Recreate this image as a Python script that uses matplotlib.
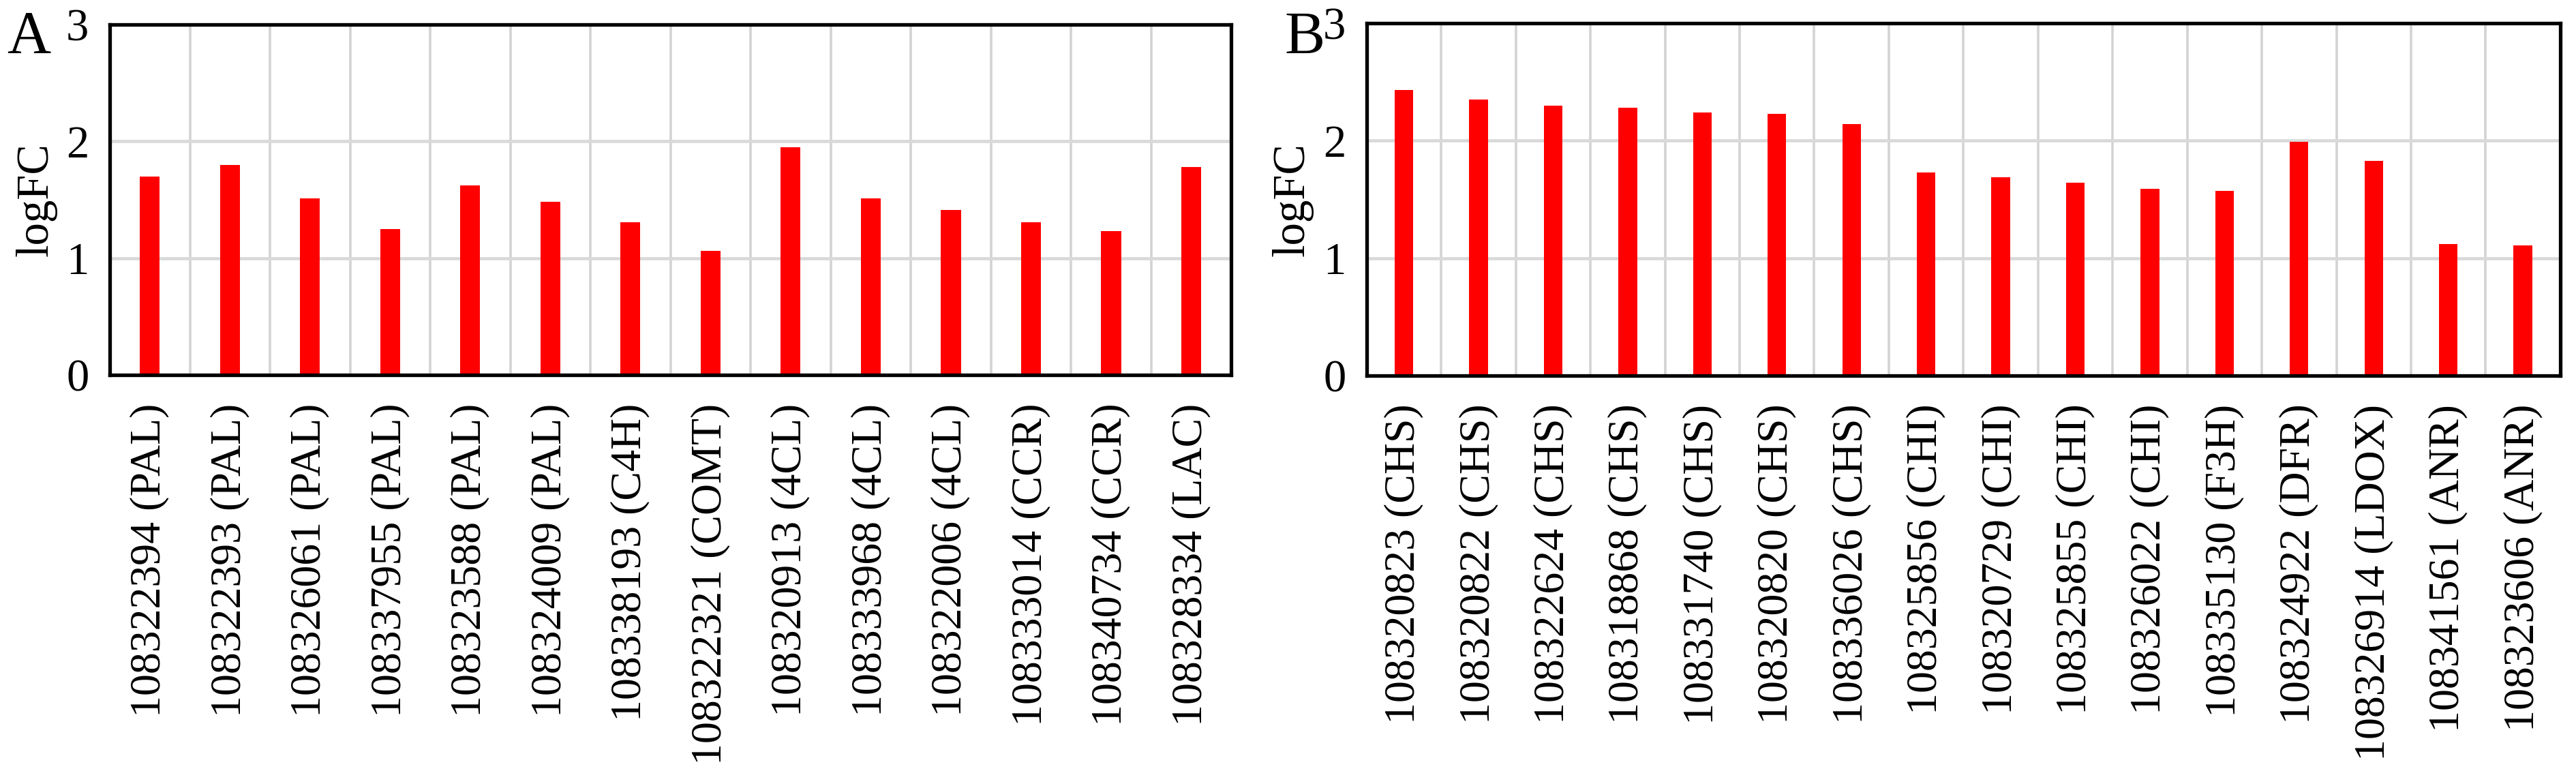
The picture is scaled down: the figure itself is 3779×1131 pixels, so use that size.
import matplotlib
matplotlib.use('Agg')
import matplotlib.pyplot as plt

plt.rcParams['font.family'] = ['Liberation Serif', 'DejaVu Serif']

# panel A: lignin pathway genes
genes_a = ['108322394 (PAL)', '108322393 (PAL)', '108326061 (PAL)', '108337955 (PAL)',
           '108323588 (PAL)', '108324009 (PAL)', '108338193 (C4H)', '108322321 (COMT)',
           '108320913 (4CL)', '108333968 (4CL)', '108322006 (4CL)', '108333014 (CCR)',
           '108340734 (CCR)', '108328334 (LAC)']
logfc_a = [1.70, 1.80, 1.51, 1.25, 1.62, 1.48, 1.31, 1.06, 1.95, 1.51, 1.41, 1.31, 1.23, 1.78]

# panel B: flavonoid pathway genes
genes_b = ['108320823 (CHS)', '108320822 (CHS)', '108322624 (CHS)', '108318868 (CHS)',
           '108331740 (CHS)', '108320820 (CHS)', '108336026 (CHS)', '108325856 (CHI)',
           '108320729 (CHI)', '108325855 (CHI)', '108326022 (CHI)', '108335130 (F3H)',
           '108324922 (DFR)', '108326914 (LDOX)', '108341561 (ANR)', '108323606 (ANR)']
logfc_b = [2.43, 2.35, 2.30, 2.28, 2.24, 2.23, 2.14, 1.73, 1.69, 1.64, 1.59, 1.57,
           1.99, 1.83, 1.12, 1.11]


def draw_panel(ax, genes, vals, letter):
    x = range(len(genes))
    ax.bar(x, vals, width=0.25, color='#ff0000', zorder=3)
    ax.set_xlim(-0.5, len(genes) - 0.5)
    ax.set_ylim(0, 3)
    ax.set_yticks([0, 1, 2, 3])
    ax.set_xticks(list(x))
    ax.set_xticklabels(genes, rotation=90, fontsize=46)
    ax.set_xticks([i + 0.5 for i in range(len(genes) - 1)], minor=True)
    ax.tick_params(axis='y', labelsize=48, length=0, pad=22)
    ax.tick_params(axis='x', which='both', length=0, pad=30)
    ax.grid(axis='y', which='major', color='#d9d9d9', linewidth=3.4, zorder=0)
    ax.grid(axis='x', which='minor', color='#d3d3d3', linewidth=2.6, zorder=0)
    ax.set_axisbelow(True)
    for s in ax.spines.values():
        s.set_linewidth(3.8)
        s.set_zorder(5)
    ax.set_ylabel('logFC', fontsize=48, labelpad=10)
    ax.text(-0.085, 1.0, letter, transform=ax.transAxes, fontsize=64,
            ha='left', va='top')


fig = plt.figure(figsize=(37.8, 11.31), dpi=100)
ax1 = fig.add_axes([0.0426, 0.5137, 0.4352, 0.4545])
ax2 = fig.add_axes([0.5304, 0.5128, 0.4632, 0.4572])

draw_panel(ax1, genes_a, logfc_a, 'A')
draw_panel(ax2, genes_b, logfc_b, 'B')
ax1.texts[0].set_position((-0.092, 1.04))
ax2.texts[0].set_position((-0.069, 1.035))

fig.savefig('out.png', dpi=100)
